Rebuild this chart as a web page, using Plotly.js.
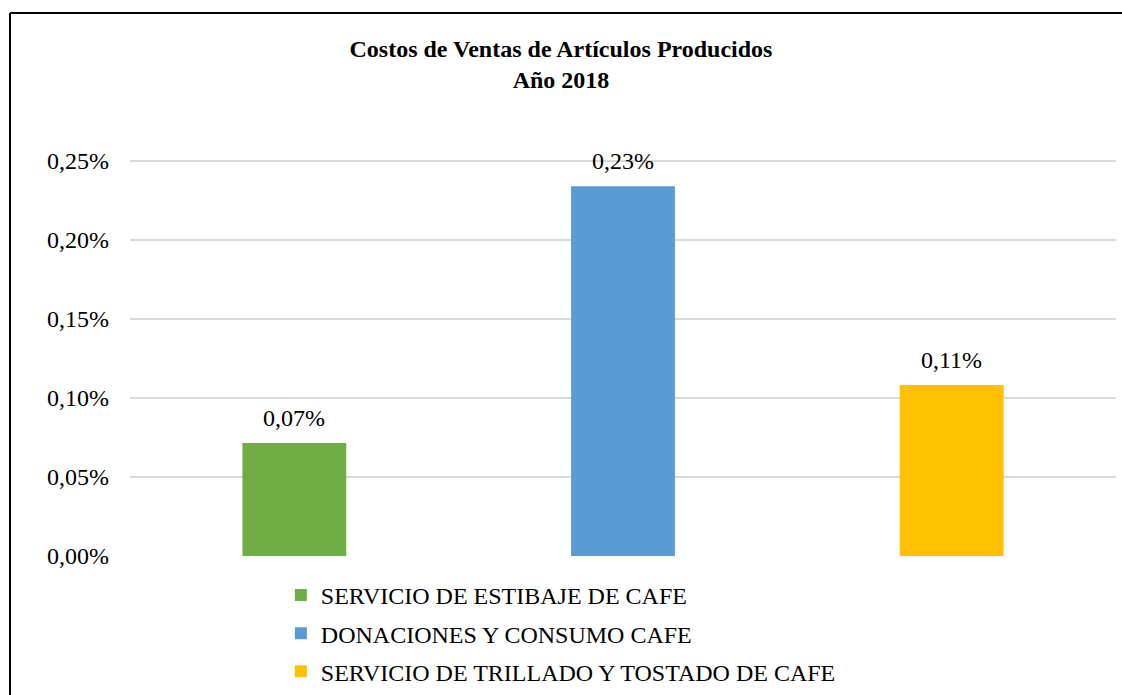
<!DOCTYPE html>
<html>
<head>
<meta charset="utf-8">
<script src="https://cdn.plot.ly/plotly-3.0.1.min.js"></script>
<style>html,body{margin:0;padding:0;background:#fff;}#chart{width:1122px;height:695px;}</style>
</head>
<body>
<div id="chart"></div>
<script>
const categories = ["SERVICIO DE ESTIBAJE DE CAFE", "DONACIONES Y CONSUMO CAFE", "SERVICIO DE TRILLADO Y TOSTADO DE CAFE"];
const values = [0.0715, 0.2340, 0.1082];
const colors = ["#70AD47", "#5B9BD5", "#FFC000"];
const yTicks = [0, 0.05, 0.10, 0.15, 0.20, 0.25];
const yTickLabels = ["0,00%", "0,05%", "0,10%", "0,15%", "0,20%", "0,25%"];
const titleText = "<b>Costos de Ventas de Artículos Producidos</b><br><b>Año 2018</b>";

const font = "Liberation Serif, Times New Roman, serif";

const traces = categories.map((c, i) => ({
  type: "bar",
  name: c,
  x: [c],
  y: [values[i]],
  marker: {color: colors[i]},
  legendgroup: "g" + i,
  hoverinfo: "skip"
}));

const labels = categories.map((c, i) => ({
  x: c, y: values[i], xref: "x", yref: "y",
  text: values[i].toFixed(2).replace(".", ",") + "%",
  showarrow: false, yanchor: "bottom", yshift: 10,
  font: {family: font, size: 24, color: "#000"}
}));

const layout = {
  width: 1122, height: 695,
  margin: {l: 130, r: 6, t: 159, b: 139, autoexpand: false},
  paper_bgcolor: "#fff", plot_bgcolor: "#fff",
  separators: ", ",
  font: {family: font, size: 24, color: "#000"},
  title: {text: titleText, x: 0.5, xref: "container", xanchor: "center",
          y: 0.918, yref: "container", yanchor: "top",
          font: {family: font, size: 24, color: "#000"}},
  barmode: "overlay",
  bargap: 0.684,
  xaxis: {type: "category", categoryarray: categories, showticklabels: false,
          showgrid: false, zeroline: false, showline: false, ticks: ""},
  yaxis: {range: [0, 0.2513], tickmode: "array", tickvals: yTicks, ticktext: yTickLabels,
          showgrid: true, gridcolor: "#d9d9d9", gridwidth: 1.5,
          zeroline: false, showline: false, ticks: "", ticklabelstandoff: 20,
          tickfont: {family: font, size: 24, color: "#000"}},
  showlegend: true,
  legend: {orientation: "v", x: 0.153, xanchor: "left", y: -0.0425, yanchor: "top",
           tracegroupgap: 4, font: {family: font, size: 24, color: "#000"},
           bgcolor: "rgba(0,0,0,0)"},
  annotations: labels,
  shapes: [
    {type: "line", xref: "paper", yref: "paper", x0: -0.1217, x1: -0.1217, y0: -0.6, y1: 1.3677,
     line: {color: "#000", width: 2}, layer: "above"},
    {type: "line", xref: "paper", yref: "paper", x0: -0.1217, x1: 1.05, y0: 1.3677, y1: 1.3677,
     line: {color: "#000", width: 2}, layer: "above"}
  ]
};

Plotly.newPlot("chart", traces, layout, {displayModeBar: false, staticPlot: true});
</script>
</body>
</html>
